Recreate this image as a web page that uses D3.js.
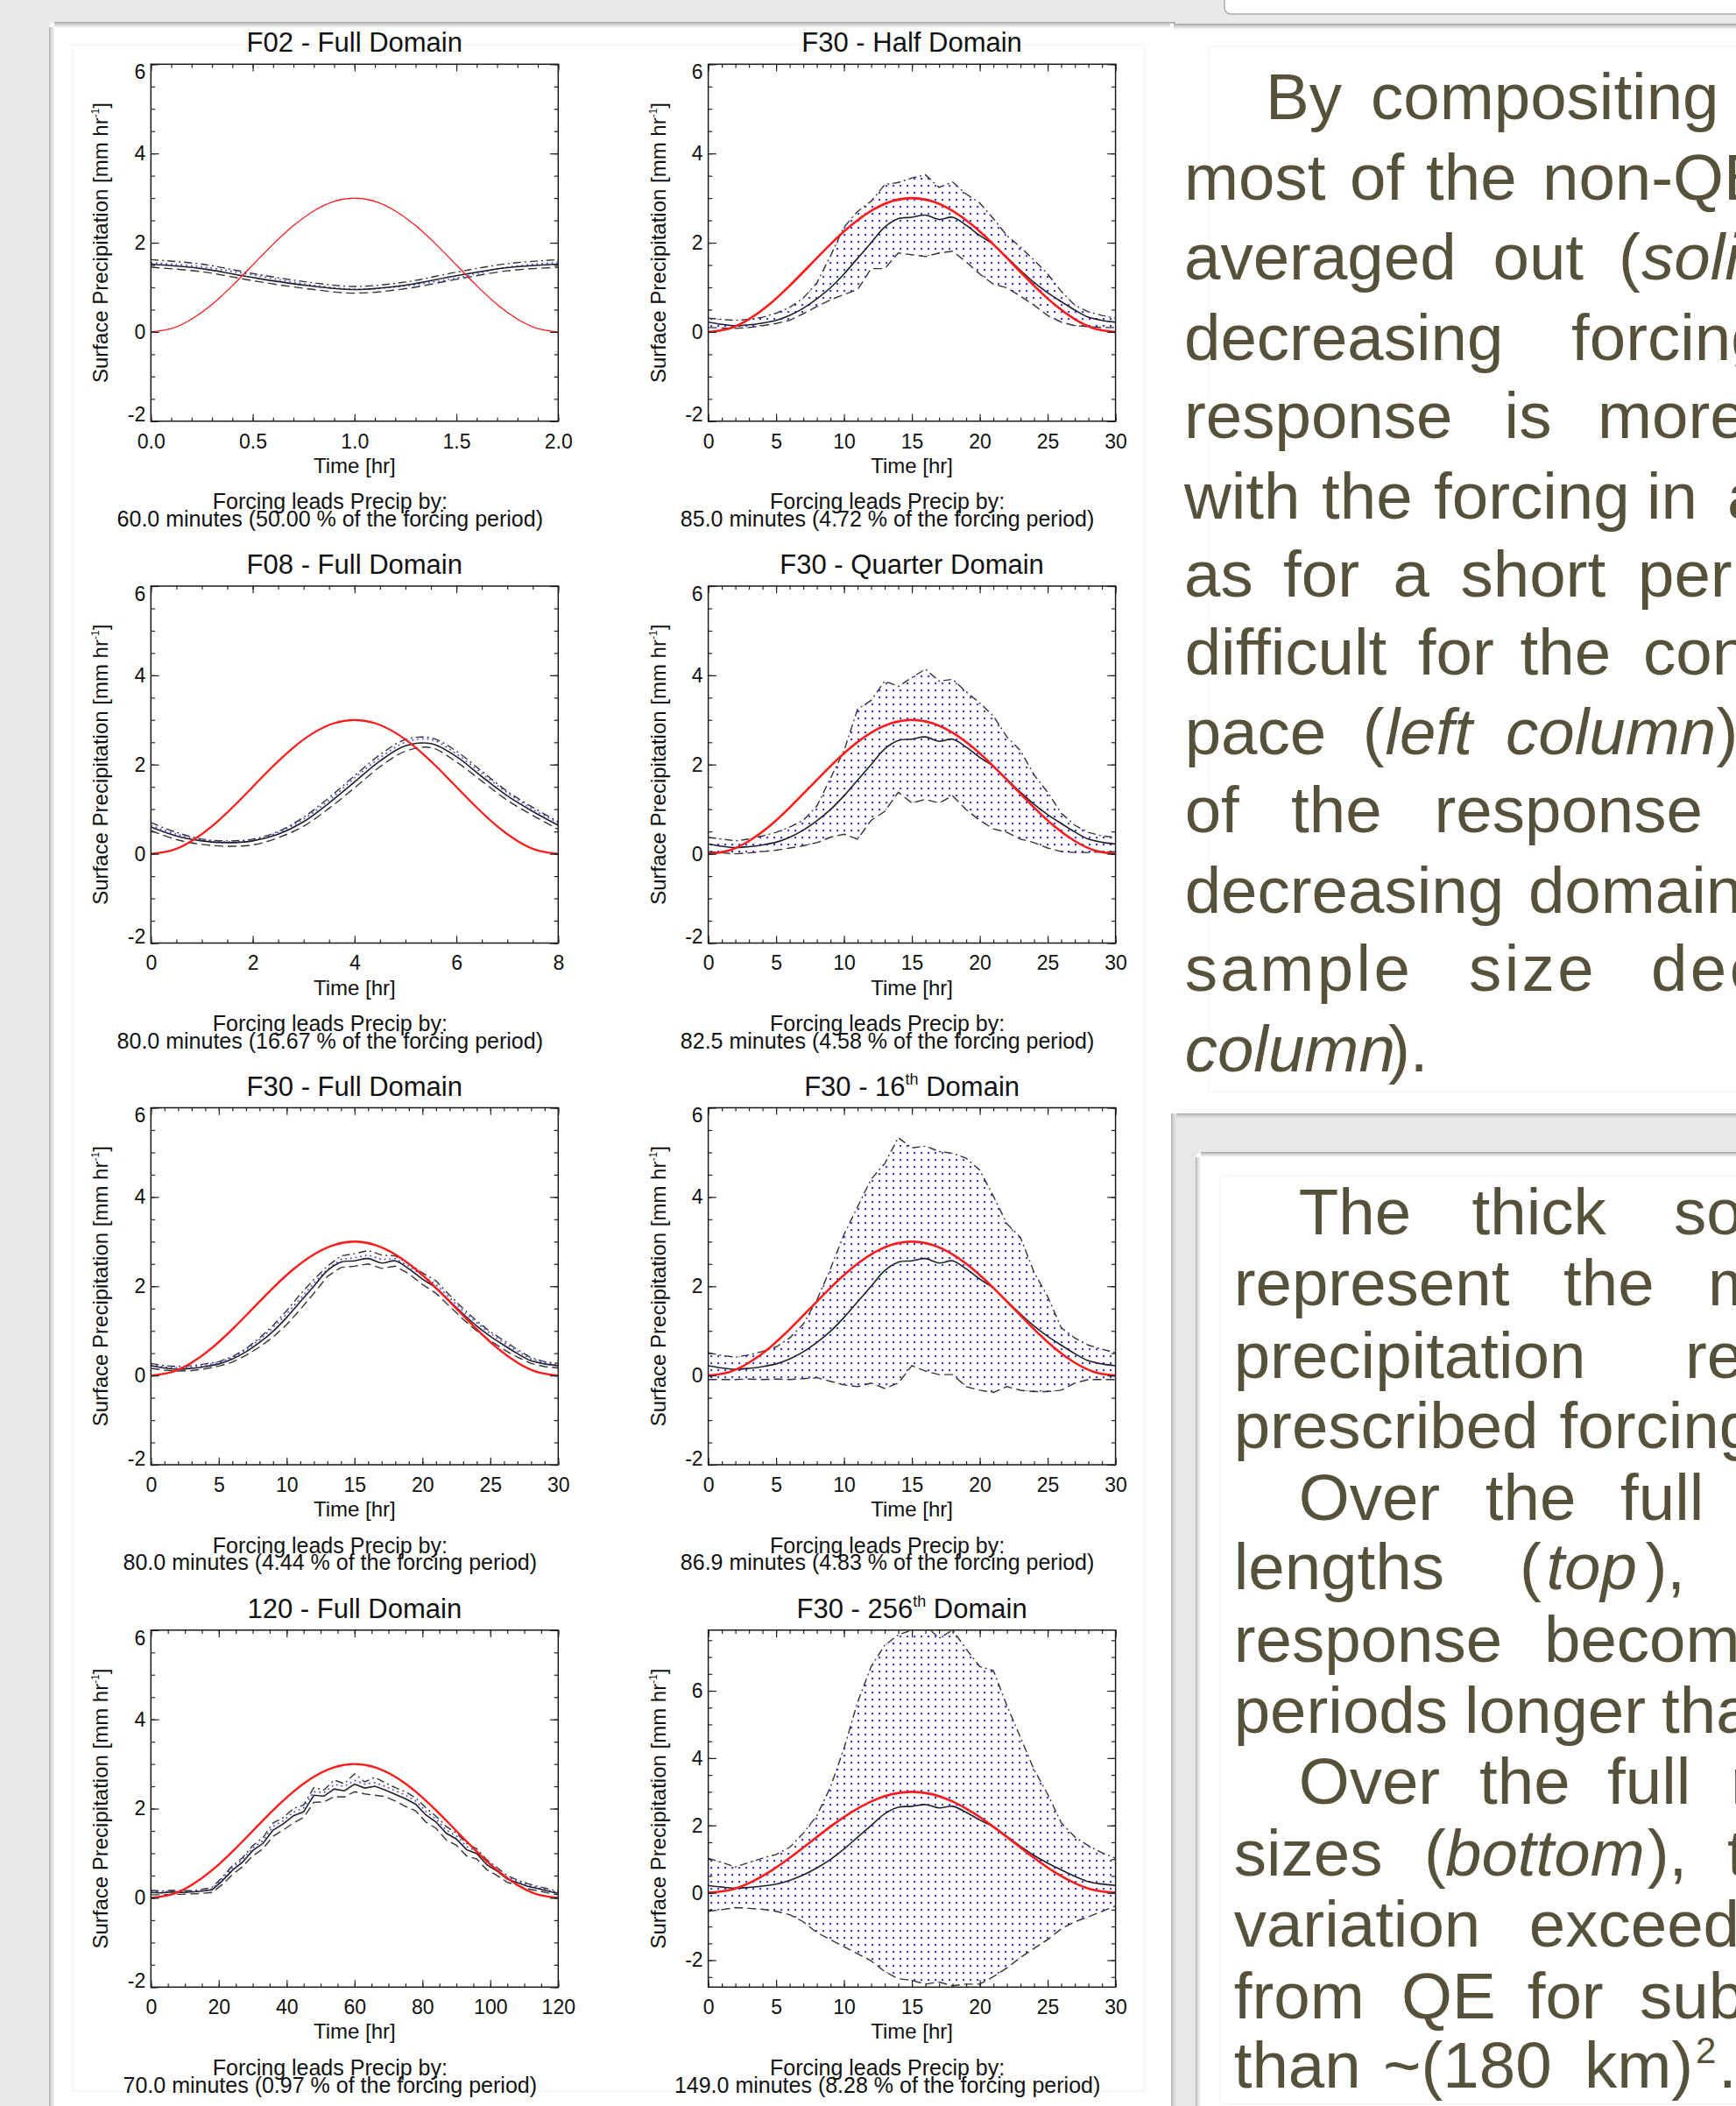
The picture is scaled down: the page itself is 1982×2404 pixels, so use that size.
<!DOCTYPE html>
<html><head><meta charset="utf-8">
<script src="https://cdn.jsdelivr.net/npm/d3@7/dist/d3.min.js"></script>
<style>
html,body{margin:0;padding:0;background:#e9e9e9;}
svg{display:block;}
</style></head><body>
<svg id="chart" width="1982" height="2404" xmlns="http://www.w3.org/2000/svg"></svg>
<script>
// ================= DATA =================
// prescribed forcing (red), as fraction of forcing period
const forcingPhase = [0,0.05,0.1,0.15,0.2,0.25,0.3,0.35,0.4,0.45,0.5,0.55,0.6,0.65,0.7,0.75,0.8,0.85,0.9,0.95,1];
const forcingValue = [0,0.073,0.287,0.618,1.037,1.5,1.964,2.382,2.713,2.927,3,2.927,2.713,2.382,1.964,1.5,1.037,0.618,0.287,0.073,0];

// F02 - Full Domain
const tF02 = [0,0.25,0.5,0.75,1,1.25,1.5,1.75,2];
const f02Mean  = [1.52,1.42,1.22,1.05,0.95,1.05,1.26,1.44,1.52];
const f02Upper = [1.62,1.52,1.31,1.13,1.02,1.12,1.34,1.53,1.62];
const f02Lower = [1.45,1.35,1.15,0.98,0.87,0.97,1.18,1.37,1.45];
const f02Blue  = [1.55,1.46,1.28,1.08,0.96,1.03,1.21,1.45,1.56];

// F08 - Full Domain
const tF08 = [0,0.5,1,1.5,2,2.5,3,3.5,4,4.5,5,5.5,6,6.5,7,7.5,8];
const f08Mean  = [0.6,0.4,0.29,0.25,0.29,0.44,0.72,1.14,1.61,2.08,2.42,2.47,2.18,1.73,1.3,0.95,0.64];
const f08Upper = [0.7,0.48,0.33,0.29,0.33,0.5,0.82,1.26,1.75,2.22,2.56,2.6,2.3,1.85,1.4,1.04,0.72];
const f08Lower = [0.52,0.32,0.21,0.17,0.2,0.36,0.62,1.02,1.48,1.95,2.3,2.38,2.06,1.63,1.2,0.86,0.55];
const f08Blue  = [0.64,0.44,0.31,0.27,0.3,0.48,0.78,1.2,1.7,2.15,2.5,2.56,2.24,1.8,1.37,1.0,0.7];

// F30 (shared domain-mean response)
const tF30 = [0,1,2,3,4,5,6,7,8,9,10,11,12,13,14,15,16,17,18,19,20,21,22,23,24,25,26,27,28,29,30];
const f30Mean = [0.22,0.17,0.14,0.16,0.2,0.26,0.37,0.53,0.74,0.99,1.3,1.65,2.0,2.35,2.54,2.57,2.62,2.52,2.57,2.39,2.16,1.96,1.67,1.38,1.11,0.88,0.68,0.49,0.33,0.26,0.22];
const f30FullUpper = [0.27,0.22,0.2,0.22,0.26,0.31,0.42,0.6,0.84,1.12,1.45,1.82,2.15,2.45,2.68,2.73,2.8,2.7,2.68,2.5,2.3,2.12,1.8,1.5,1.22,0.98,0.78,0.58,0.4,0.31,0.27];
const f30FullLower = [0.16,0.12,0.1,0.11,0.15,0.21,0.3,0.45,0.64,0.86,1.14,1.48,1.84,2.22,2.42,2.45,2.5,2.4,2.45,2.28,2.04,1.84,1.55,1.26,1.0,0.78,0.58,0.41,0.27,0.2,0.17];
const f30FullBlue  = [0.24,0.19,0.17,0.19,0.23,0.29,0.4,0.57,0.8,1.07,1.38,1.72,2.07,2.38,2.6,2.64,2.7,2.6,2.62,2.45,2.24,2.04,1.74,1.44,1.18,0.94,0.73,0.54,0.37,0.29,0.24];
const halfUpper = [0.31,0.28,0.26,0.28,0.33,0.42,0.55,0.76,1.1,1.7,2.35,2.7,2.93,3.3,3.35,3.45,3.52,3.24,3.36,3.09,2.89,2.54,2.16,1.9,1.61,1.3,0.91,0.6,0.45,0.37,0.31];
const halfLower = [0.1,0.09,0.08,0.1,0.14,0.19,0.26,0.41,0.57,0.72,0.84,0.95,1.42,1.42,1.77,1.73,1.69,1.77,1.81,1.57,1.3,1.07,0.99,0.8,0.6,0.37,0.22,0.14,0.12,0.1,0.1];
const quarterUpper = [0.37,0.33,0.29,0.33,0.4,0.48,0.6,0.75,1.07,1.69,2.31,3.24,3.44,3.87,3.75,3.95,4.14,3.87,3.91,3.63,3.38,3.09,2.62,2.31,1.77,1.38,0.91,0.64,0.48,0.4,0.37];
const quarterLower = [0.05,0.02,0.0,0.02,0.05,0.08,0.13,0.18,0.25,0.37,0.44,0.33,0.75,0.95,1.38,1.14,1.22,1.14,1.3,0.99,0.75,0.56,0.48,0.33,0.25,0.13,0.05,0.03,0.03,0.04,0.05];
const d16Upper = [0.51,0.45,0.41,0.46,0.54,0.64,0.84,1.15,1.69,2.39,3.16,3.78,4.4,4.75,5.33,5.1,5.14,5.02,4.98,4.87,4.6,4.02,3.4,3.09,2.31,1.77,1.07,0.84,0.68,0.59,0.51];
const d16Lower = [-0.09,-0.09,-0.09,-0.08,-0.09,-0.08,-0.09,-0.07,-0.05,-0.13,-0.21,-0.25,-0.17,-0.29,-0.17,0.22,0.1,0.02,0.02,-0.25,-0.33,-0.38,-0.25,-0.33,-0.36,-0.36,-0.33,-0.17,-0.09,-0.09,-0.09];
const d256Upper = [1.03,0.9,0.77,0.9,1.03,1.14,1.35,1.77,2.29,3.14,4.29,5.66,6.72,7.35,7.66,7.8,7.95,7.56,7.8,7.24,6.72,6.6,5.56,4.61,3.66,2.93,2.08,1.66,1.4,1.19,1.03];
const d256Lower = [-0.55,-0.5,-0.44,-0.46,-0.49,-0.55,-0.65,-0.86,-1.18,-1.39,-1.6,-1.81,-2.02,-2.34,-2.55,-2.6,-2.71,-2.65,-2.76,-2.71,-2.71,-2.49,-2.23,-1.92,-1.65,-1.39,-1.07,-0.86,-0.71,-0.55,-0.39];

// 120 - Full Domain
const t120 = [0,3,6,9,12,15,18,21,24,27,30,33,36,39,42,45,48,51,54,57,60,63,66,69,72,75,78,81,84,87,90,93,96,99,102,105,108,111,114,117,120];
const h120Mean  = [0.12,0.11,0.13,0.12,0.13,0.15,0.18,0.38,0.62,0.8,1.06,1.22,1.52,1.66,1.84,1.93,2.3,2.28,2.44,2.4,2.55,2.46,2.5,2.42,2.32,2.22,2.1,1.86,1.7,1.45,1.32,1.08,0.99,0.74,0.6,0.42,0.34,0.26,0.21,0.15,0.1];
const h120Upper = [0.17,0.15,0.17,0.16,0.16,0.19,0.23,0.46,0.72,0.9,1.17,1.35,1.68,1.8,2.0,2.08,2.47,2.42,2.64,2.56,2.78,2.6,2.7,2.58,2.47,2.38,2.24,2.02,1.83,1.6,1.45,1.22,1.1,0.85,0.68,0.5,0.4,0.32,0.26,0.2,0.15];
const h120Lower = [0.07,0.07,0.08,0.08,0.09,0.1,0.12,0.3,0.52,0.7,0.94,1.1,1.38,1.52,1.68,1.8,2.14,2.15,2.27,2.26,2.38,2.33,2.3,2.27,2.17,2.05,1.95,1.7,1.56,1.3,1.18,0.94,0.87,0.63,0.5,0.35,0.28,0.2,0.16,0.11,0.07];
const h120Blue  = [0.14,0.12,0.15,0.13,0.15,0.17,0.2,0.42,0.67,0.86,1.12,1.28,1.6,1.73,1.92,2.02,2.38,2.36,2.54,2.5,2.63,2.55,2.58,2.5,2.4,2.3,2.17,1.94,1.77,1.52,1.39,1.15,1.04,0.8,0.64,0.46,0.37,0.29,0.23,0.17,0.12];

// tick labels
const yTicksStd = [-2,0,2,4,6];
const xTicksF02 = [0,0.5,1.0,1.5,2.0];
const xTicksF08 = [0,2,4,6,8];
const xTicksF30 = [0,5,10,15,20,25,30];
const xTicks120 = [0,20,40,60,80,100,120];

const titles = [
  [["F02 - Full Domain"]],
  [["F30 - Half Domain"]],
  [["F08 - Full Domain"]],
  [["F30 - Quarter Domain"]],
  [["F30 - Full Domain"]],
  [["F30 - 16"],["th","sup"],[" Domain"]],
  [["120 - Full Domain"]],
  [["F30 - 256"],["th","sup"],[" Domain"]]
];
const leadLine1 = "Forcing leads Precip by:";
const leadTexts = [
  "60.0 minutes (50.00 % of the forcing period)",
  "85.0 minutes (4.72 % of the forcing period)",
  "80.0 minutes (16.67 % of the forcing period)",
  "82.5 minutes (4.58 % of the forcing period)",
  "80.0 minutes (4.44 % of the forcing period)",
  "86.9 minutes (4.83 % of the forcing period)",
  "70.0 minutes (0.97 % of the forcing period)",
  "149.0 minutes (8.28 % of the forcing period)"
];

// ================= LAYOUT =================
const FONT = "'Liberation Sans', Arial, Helvetica, sans-serif";
const TXT = "#56513b";
const W = 465, H = 407.5;
const colX = [172.3, 808.6];
const rowY = [73.3, 669, 1264.5, 1860.8];
const plainNum = d => String(d);

const svg = d3.select("#chart");
const defs = svg.append("defs");

// dot stipple pattern
const pat = defs.append("pattern").attr("id","dots").attr("patternUnits","userSpaceOnUse")
  .attr("width",8).attr("height",8);
pat.append("rect").attr("x",3).attr("y",3).attr("width",2.2).attr("height",2.2).attr("fill","#3d3dff");

// gradients for shadows
function grad(id, x1,y1,x2,y2, stops){
  const g = defs.append("linearGradient").attr("id",id).attr("x1",x1).attr("y1",y1).attr("x2",x2).attr("y2",y2);
  stops.forEach(s=>g.append("stop").attr("offset",s[0]).attr("stop-color",s[1]));
}
grad("shTop",0,0,0,1,[[0,"#9c9c9c"],[0.25,"#c4c4c4"],[1,"#ffffff"]]);
grad("shLeft",0,0,1,0,[[0,"#a8a8a8"],[0.25,"#cfcfcf"],[1,"#ffffff"]]);
grad("shTopG",0,0,0,1,[[0,"#9c9c9c"],[0.3,"#c8c8c8"],[1,"#e8e8e8"]]);
grad("shLeftG",0,0,1,0,[[0,"#a8a8a8"],[0.3,"#cccccc"],[1,"#e8e8e8"]]);

// ---------- page background & frames ----------
const bg = svg.append("g");
bg.append("rect").attr("width",1982).attr("height",2404).attr("fill","#e9e9e9");
bg.append("rect").attr("x",1398).attr("y",-20).attr("width",600).attr("height",36).attr("rx",7).attr("fill","#ffffff").attr("stroke","#a9a9a9").attr("stroke-width",1.5);
bg.append("rect").attr("x",56).attr("y",25).attr("width",1290).attr("height",2400).attr("rx",7).attr("fill","#ffffff");
bg.append("rect").attr("x",62).attr("y",25).attr("width",1280).attr("height",7).attr("fill","url(#shTop)");
bg.append("rect").attr("x",56).attr("y",31).attr("width",7).attr("height",2380).attr("fill","url(#shLeft)");
bg.append("rect").attr("x",1336).attr("y",27).attr("width",660).attr("height",1250).attr("fill","#ffffff");
bg.append("rect").attr("x",1340).attr("y",27).attr("width",660).attr("height",7).attr("fill","url(#shTop)");
bg.append("rect").attr("x",83).attr("y",51).attr("width",1224).attr("height",2336).attr("fill","none").attr("stroke","#f4f4f4").attr("stroke-width",1.2);
bg.append("rect").attr("x",1380).attr("y",53).attr("width",620).attr("height",1193).attr("fill","none").attr("stroke","#f6f6f6").attr("stroke-width",1.2);
bg.append("rect").attr("x",1337).attr("y",1271).attr("width",660).attr("height",1140).attr("fill","#e8e8e8");
bg.append("rect").attr("x",1337).attr("y",1271).attr("width",660).attr("height",6).attr("fill","url(#shTopG)");
bg.append("rect").attr("x",1337).attr("y",1271).attr("width",6).attr("height",1140).attr("fill","url(#shLeftG)");
bg.append("rect").attr("x",1365).attr("y",1315).attr("width",640).attr("height",1100).attr("rx",7).attr("fill","#ffffff");
bg.append("rect").attr("x",1371).attr("y",1315).attr("width",640).attr("height",6).attr("fill","url(#shTop)");
bg.append("rect").attr("x",1365).attr("y",1321).attr("width",6).attr("height",1100).attr("fill","url(#shLeft)");
bg.append("rect").attr("x",1393).attr("y",1342).attr("width",620).attr("height",1060).attr("fill","none").attr("stroke","#f6f6f6").attr("stroke-width",1.2);

// ---------- panels ----------
const panels = [
  {t:tF02, mean:f02Mean, up:f02Upper, lo:f02Lower, blue:f02Blue, xDom:[0,2], xT:xTicksF02, xMinor:0.1, fmt:d3.format(".1f"), yDom:[-2,6], redW:1.3, fill:false, curve:d3.curveCatmullRom},
  {t:tF30, mean:f30Mean, up:halfUpper, lo:halfLower, xDom:[0,30], xT:xTicksF30, xMinor:1, fmt:plainNum, yDom:[-2,6], redW:2.6, fill:true, curve:d3.curveLinear},
  {t:tF08, mean:f08Mean, up:f08Upper, lo:f08Lower, blue:f08Blue, xDom:[0,8], xT:xTicksF08, xMinor:0.5, fmt:plainNum, yDom:[-2,6], redW:2.2, fill:false, curve:d3.curveCatmullRom},
  {t:tF30, mean:f30Mean, up:quarterUpper, lo:quarterLower, xDom:[0,30], xT:xTicksF30, xMinor:1, fmt:plainNum, yDom:[-2,6], redW:2.6, fill:true, curve:d3.curveLinear},
  {t:tF30, mean:f30Mean, up:f30FullUpper, lo:f30FullLower, blue:f30FullBlue, xDom:[0,30], xT:xTicksF30, xMinor:1, fmt:plainNum, yDom:[-2,6], redW:2.4, fill:false, curve:d3.curveLinear},
  {t:tF30, mean:f30Mean, up:d16Upper, lo:d16Lower, xDom:[0,30], xT:xTicksF30, xMinor:1, fmt:plainNum, yDom:[-2,6], redW:2.6, fill:true, curve:d3.curveLinear},
  {t:t120, mean:h120Mean, up:h120Upper, lo:h120Lower, blue:h120Blue, xDom:[0,120], xT:xTicks120, xMinor:5, fmt:plainNum, yDom:[-2,6], redW:2.4, fill:false, curve:d3.curveLinear},
  {t:tF30, mean:f30Mean, up:d256Upper, lo:d256Lower, xDom:[0,30], xT:xTicksF30, xMinor:1, fmt:plainNum, yDom:[-2.8,7.8], redW:2.6, fill:true, curve:d3.curveLinear}
];

panels.forEach((p,i)=>{
  const col = i%2, row = Math.floor(i/2);
  const x0 = colX[col], y0 = rowY[row];
  const x = d3.scaleLinear().domain(p.xDom).range([x0, x0+W]);
  const y = d3.scaleLinear().domain(p.yDom).range([y0+H, y0]);
  const g = svg.append("g");
  const cid = "clip"+i;
  defs.append("clipPath").attr("id",cid).append("rect").attr("x",x0).attr("y",y0).attr("width",W).attr("height",H);
  const pg = g.append("g").attr("clip-path",`url(#${cid})`);

  const idx = d3.range(p.t.length);
  if(p.fill){
    const area = d3.area().curve(p.curve).x(k=>x(p.t[k])).y0(k=>y(p.lo[k])).y1(k=>y(p.up[k]));
    pg.append("path").attr("d",area(idx)).attr("fill","url(#dots)");
  }
  const line = (arr,curve)=>d3.line().curve(curve).x(k=>x(p.t[k])).y(k=>y(arr[k]))(idx);
  pg.append("path").attr("d",line(p.up,p.curve)).attr("fill","none").attr("stroke","#333").attr("stroke-width",1.4).attr("stroke-dasharray","9,4,2,4");
  pg.append("path").attr("d",line(p.lo,p.curve)).attr("fill","none").attr("stroke","#333").attr("stroke-width",1.4).attr("stroke-dasharray","10,5");
  if(p.blue){
    pg.append("path").attr("d",line(p.blue,p.curve)).attr("fill","none").attr("stroke","#3c3cff").attr("stroke-width",1.7).attr("stroke-dasharray","1.7,4");
  }
  pg.append("path").attr("d",line(p.mean, p.t===t120?d3.curveLinear:d3.curveCatmullRom)).attr("fill","none").attr("stroke","#1e1e2a").attr("stroke-width",1.6);
  const T = p.xDom[1];
  const redLine = d3.line().curve(d3.curveNatural).x((ph)=>x(ph*T)).y((ph,k)=>y(forcingValue[k]));
  pg.append("path").attr("d",redLine(forcingPhase)).attr("fill","none").attr("stroke","#ff1a1a").attr("stroke-width",p.redW);

  // axes
  const yMinor = d3.range(Math.ceil(p.yDom[0]*2)/2, p.yDom[1]+1e-6, 0.5);
  const xMinor = d3.range(p.xDom[0], p.xDom[1]+1e-6, p.xMinor);
  const styleAx = (sel)=>{ sel.select(".domain").remove(); sel.selectAll("line").attr("stroke","#222").attr("stroke-width",1.2); };
  const tickX = 0.02*H, tickY = 0.02*W;
  g.append("g").attr("transform",`translate(0,${y0+H})`).call(d3.axisBottom(x).tickValues(xMinor).tickSize(-tickX/2).tickFormat("")).call(styleAx);
  const xb = g.append("g").attr("transform",`translate(0,${y0+H})`)
    .call(d3.axisBottom(x).tickValues(p.xT).tickSize(-tickX).tickPadding(14.5).tickFormat(p.fmt)).call(styleAx);
  xb.attr("font-size",23).attr("font-family",FONT).attr("color","#111");
  g.append("g").attr("transform",`translate(0,${y0})`).call(d3.axisTop(x).tickValues(xMinor).tickSize(-tickX/2).tickFormat("")).call(styleAx);
  g.append("g").attr("transform",`translate(0,${y0})`).call(d3.axisTop(x).tickValues(p.xT).tickSize(-tickX).tickFormat("")).call(styleAx);
  g.append("g").attr("transform",`translate(${x0},0)`).call(d3.axisLeft(y).tickValues(yMinor).tickSize(-tickY/2).tickFormat("")).call(styleAx);
  const yl = g.append("g").attr("transform",`translate(${x0},0)`)
    .call(d3.axisLeft(y).tickValues(yTicksStd).tickSize(-tickY).tickPadding(6).tickFormat(plainNum)).call(styleAx);
  yl.attr("font-size",23).attr("font-family",FONT).attr("color","#111");
  yl.selectAll("text").filter(d=>d===p.yDom[1]).attr("dy","0.71em");
  yl.selectAll("text").filter(d=>d===p.yDom[0]).attr("dy","0em");
  g.append("g").attr("transform",`translate(${x0+W},0)`).call(d3.axisRight(y).tickValues(yMinor).tickSize(-tickY/2).tickFormat("")).call(styleAx);
  g.append("g").attr("transform",`translate(${x0+W},0)`).call(d3.axisRight(y).tickValues(yTicksStd).tickSize(-tickY).tickFormat("")).call(styleAx);
  g.append("rect").attr("x",x0).attr("y",y0).attr("width",W).attr("height",H).attr("fill","none").attr("stroke","#1a1a1a").attr("stroke-width",1.5);

  // title
  const tt = g.append("text").attr("x",x0+W/2).attr("y",y0-14).attr("text-anchor","middle")
    .attr("font-family",FONT).attr("font-size",31).attr("fill","#111");
  titles[i].forEach(seg=>{
    if(seg[1]==="sup") tt.append("tspan").attr("font-size",18).attr("dy",-13).text(seg[0]);
    else { const s=tt.append("tspan").text(seg[0]); if(seg!==titles[i][0]) s.attr("dy",13); }
  });
  g.append("text").attr("x",x0+W/2).attr("y",y0+H+59).attr("text-anchor","middle")
    .attr("font-family",FONT).attr("font-size",24).attr("fill","#111").text("Time [hr]");
  const yt = g.append("text").attr("transform",`translate(${x0-49},${y0+H/2}) rotate(-90)`).attr("text-anchor","middle")
    .attr("font-family",FONT).attr("font-size",24).attr("fill","#111");
  yt.append("tspan").text("Surface Precipitation [mm hr");
  yt.append("tspan").attr("font-size",12).attr("dy",-10).text("-1");
  yt.append("tspan").attr("dy",10).text("]");
  const lc = x0+W/2-28;
  g.append("text").attr("x",lc).attr("y",y0+H+100.5).attr("text-anchor","middle")
    .attr("font-family",FONT).attr("font-size",25).attr("fill","#111").text(leadLine1);
  g.append("text").attr("x",lc).attr("y",y0+H+120.3).attr("text-anchor","middle")
    .attr("font-family",FONT).attr("font-size",25).attr("fill","#111").text(leadTexts[i]);
});

// ---------- side text ----------
const upperText = [
  {y:136,   w:[["By",1445],["compositing",1565]]},
  {y:227.7, w:[["most",1352],["of",1541],["the",1628],["non-QE",1761]]},
  {y:319,   w:[["averaged",1352],["out",1704.5],["(",1848],["solid",1874,1]]},
  {y:410.7, w:[["decreasing",1352],["forcing",1794]]},
  {y:500,   w:[["response",1352],["is",1717.6],["more",1824]]},
  {y:591.5, w:[["with",1352],["the",1509],["forcing",1637],["in",1880],["a",1972]]},
  {y:680.8, w:[["as",1352],["for",1465],["a",1590.6],["short",1667.5],["period",1870]]},
  {y:769.6, w:[["difficult",1352.7],["for",1618.8],["the",1735.5],["convection",1876]]},
  {y:861,   w:[["pace",1352.7],["(",1555.8],["left",1581.5,1],["column",1719,1],[")",1959.6]]},
  {y:950.4, w:[["of",1352.7],["the",1474],["response",1637.5]]},
  {y:1042,  w:[["decreasing",1352.7],["domain",1744.9]]},
  {y:1131,  w:[["sample",1352.7],["size",1677],["decreases",1885]], ls:3.4},
  {y:1222.8,w:[["column",1352.7,1],[").",1585]]}
];
const lowerText = [
  {y:1409,   w:[["The",1482.7],["thick",1680.6],["solid",1911]]},
  {y:1490,   w:[["represent",1408.7],["the",1785],["mean",1950]]},
  {y:1572.5, w:[["precipitation",1408.7],["response",1924]]},
  {y:1653,   w:[["prescribed",1408.7],["forcing",1780.6]]},
  {y:1735,   w:[["Over",1482.7],["the",1695.8],["full",1850]]},
  {y:1814.4, w:[["lengths",1408.7],["(",1735],["top",1765.4,1],["),",1878.5]]},
  {y:1896.6, w:[["response",1408.7],["becomes",1763]]},
  {y:1978,   w:[["periods",1408.7],["longer",1672],["than",1897]]},
  {y:2058.7, w:[["Over",1482.7],["the",1689],["full",1835],["range",1976]]},
  {y:2140.8, w:[["sizes",1408.7],["(",1626],["bottom",1650,1],["),",1880.7],["the",1972]]},
  {y:2221.5, w:[["variation",1408.7],["exceeds",1745.8]]},
  {y:2303.7, w:[["from",1408.7],["QE",1600],["for",1743.7],["sub",1872]]},
  {y:2382.8, w:[["than",1408.7],["~(180",1579],["km)",1809],["2",1936,0,"sup"],[".",1962]]}
];
function drawText(lines){
  const tg = svg.append("g").attr("font-family",FONT).attr("font-size",74.5).attr("fill",TXT);
  lines.forEach(L=>{
    L.w.forEach(w=>{
      const t = tg.append("text").attr("x",w[1]).attr("y",w[3]==="sup"?L.y-28:L.y).text(w[0]);
      if(w[2]) t.attr("font-style","italic");
      if(w[3]==="sup") t.attr("font-size",42);
      if(L.ls) t.attr("letter-spacing",L.ls);
    });
  });
}
drawText(upperText);
drawText(lowerText);
</script>
</body></html>
